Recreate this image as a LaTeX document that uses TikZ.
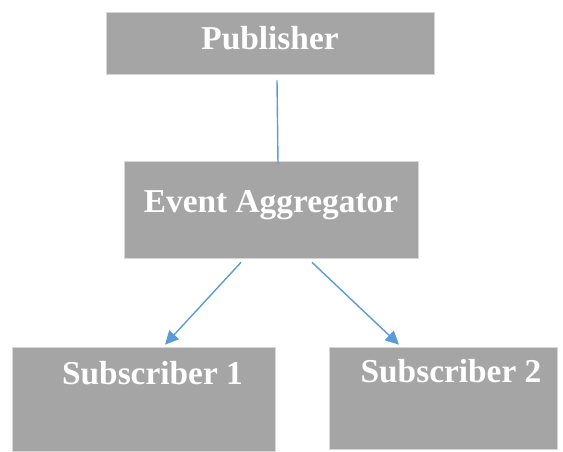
\documentclass[tikz,border=0pt]{standalone}
\usepackage{fontspec}
\setmainfont{Liberation Serif}
\usetikzlibrary{arrows.meta}
\definecolor{boxgray}{HTML}{A5A5A5}
\definecolor{edgegray}{HTML}{D6D6D6}
\definecolor{linkblue}{HTML}{5B9BD5}

\begin{document}
\begin{tikzpicture}[scale = 1,
	block/.style = {rectangle, fill = boxgray, draw = edgegray, line width = 0.4pt, inner sep = 2pt, text = white, font = \fontsize{19}{23}\selectfont\bfseries, text height = 0.45cm},
	link/.style = {draw = linkblue, line width = 0.8pt},
	arrow/.style = {link, -{Triangle[length = 0.27cm, width = 0.26cm]}}]

	\useasboundingbox (0, 0) rectangle (11.26, 9.02);

	\node[block, minimum width = 6.56cm, minimum height = 1.24cm, text depth = 0.18cm] (pub) at (5.40, 8.16) {Publisher};
	\node[block, minimum width = 5.88cm, minimum height = 1.94cm, text depth = 0.33cm] (agg) at (5.42, 4.83) {Event Aggregator};
	\node[block, minimum width = 5.26cm, minimum height = 2.08cm, text depth = 1.03cm] (sub1) at (2.87, 1.04) {\hspace*{0.36cm}Subscriber 1};
	\node[block, minimum width = 4.56cm, minimum height = 2.04cm, text depth = 1.09cm] (sub2) at (8.86, 1.06) {\hspace*{0.32cm}Subscriber 2};

	\draw[link] ([xshift = 0.14cm, yshift = -0.12cm] pub.south) -- ([xshift = 0.14cm, yshift = -0.06cm] agg.north);
	\draw[arrow] ([xshift = -0.60cm, yshift = -0.08cm] agg.south) -- ([xshift = 0.43cm, yshift = 0.04cm] sub1.north);
	\draw[arrow] ([xshift = 0.82cm, yshift = -0.08cm] agg.south) -- ([xshift = -0.88cm, yshift = 0.04cm] sub2.north);

\end{tikzpicture}
\end{document}
